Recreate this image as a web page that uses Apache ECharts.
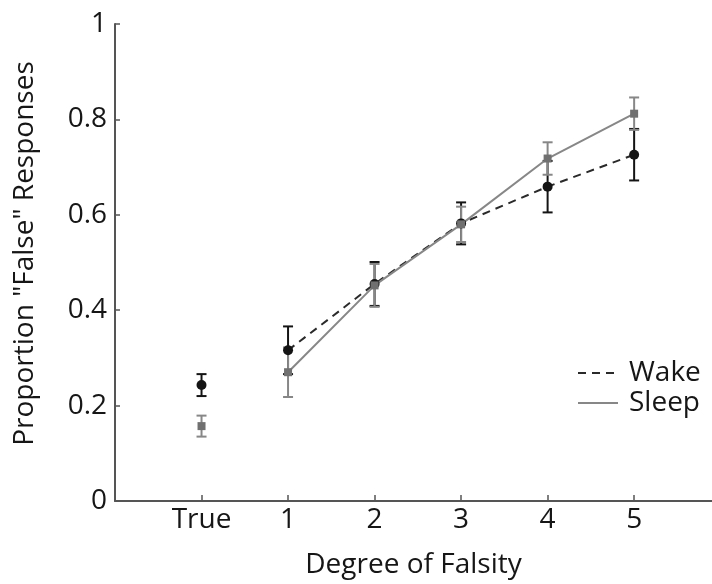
<!DOCTYPE html>
<html>
<head>
<meta charset="utf-8">
<script src="https://cdn.jsdelivr.net/npm/echarts@6/dist/echarts.min.js"></script>
<style>html,body{margin:0;padding:0;background:#fff}#c{width:712px;height:584px}</style>
</head>
<body>
<div id="c"></div>
<script>
const categories = ['True', '1', '2', '3', '4', '5'];
const xPositions = [0, 1, 2, 3, 4, 5];
const wakeMean = [0.243, 0.316, 0.455, 0.582, 0.659, 0.726];
const wakeErr = [0.023, 0.050, 0.046, 0.044, 0.054, 0.054];
const sleepMean = [0.157, 0.270, 0.452, 0.580, 0.718, 0.812];
const sleepErr = [0.022, 0.052, 0.045, 0.037, 0.034, 0.034];
const yTickValues = [0, 0.2, 0.4, 0.6, 0.8, 1];

const FONT = '"Open Sans", "Noto Sans", sans-serif';
const FS = 28;
const TXT = '#161616';
const WAKE_C = '#141414';
const SLEEP_C = '#878787';

function errData(mean, err) {
  return xPositions.map((x, i) => [x, mean[i] - err[i], mean[i] + err[i]]);
}
function pts(mean, from) {
  return xPositions.slice(from).map((x, i) => [x, mean[i + from]]);
}
function errRender(color) {
  return function (params, api) {
    const x = api.value(0);
    const lo = api.coord([x, api.value(1)]);
    const hi = api.coord([x, api.value(2)]);
    const w = 5;
    const style = { stroke: color, lineWidth: 2, fill: null };
    return {
      type: 'group',
      children: [
        { type: 'line', shape: { x1: lo[0], y1: lo[1], x2: hi[0], y2: hi[1] }, style },
        { type: 'line', shape: { x1: lo[0] - w, y1: lo[1], x2: lo[0] + w, y2: lo[1] }, style },
        { type: 'line', shape: { x1: hi[0] - w, y1: hi[1], x2: hi[0] + w, y2: hi[1] }, style }
      ]
    };
  };
}

const chart = echarts.init(document.getElementById('c'), null, { renderer: 'canvas' });
chart.setOption({
  animation: false,
  backgroundColor: '#fff',
  textStyle: { fontFamily: FONT },
  grid: { left: 115, right: 0, top: 24, bottom: 82 },
  legend: {
    data: ['Wake', 'Sleep'],
    orient: 'vertical',
    left: 572,
    top: 354,
    itemWidth: 40,
    itemHeight: 14,
    itemGap: 2,
    itemStyle: { opacity: 0 },
    textStyle: { fontSize: FS, color: TXT, fontFamily: FONT, padding: [0, 0, 0, 6] }
  },
  xAxis: {
    type: 'value',
    min: -1,
    max: 5.9,
    name: 'Degree of Falsity',
    nameLocation: 'middle',
    nameGap: 50,
    nameTextStyle: { fontSize: FS, color: TXT, fontFamily: FONT },
    splitLine: { show: false },
    axisLine: { show: true, onZero: false, lineStyle: { color: '#555', width: 2 } },
    axisTick: { show: true, inside: true, length: 6, customValues: xPositions, lineStyle: { color: '#555', width: 1.5 } },
    axisLabel: {
      customValues: xPositions,
      fontSize: FS, color: TXT, fontFamily: FONT, margin: 5,
      formatter: v => categories[xPositions.indexOf(Math.round(v))] || ''
    }
  },
  yAxis: {
    type: 'value',
    min: 0,
    max: 1,
    interval: 0.2,
    name: 'Proportion "False" Responses',
    nameLocation: 'middle',
    nameGap: 76,
    nameTextStyle: { fontSize: FS, color: TXT, fontFamily: FONT, padding: [0, 0, 0, 18] },
    splitLine: { show: false },
    axisLine: { show: true, onZero: false, lineStyle: { color: '#555', width: 2 } },
    axisTick: { show: true, inside: true, length: 5, lineStyle: { color: '#555', width: 1.5 } },
    axisLabel: { fontSize: FS, color: TXT, fontFamily: FONT, margin: 8 }
  },
  series: [
    { name: 'wakeErr', type: 'custom', renderItem: errRender(WAKE_C), data: errData(wakeMean, wakeErr), z: 2, silent: true },
    { name: 'sleepErr', type: 'custom', renderItem: errRender(SLEEP_C), data: errData(sleepMean, sleepErr), z: 3, silent: true },
    { name: 'Wake', type: 'line', data: pts(wakeMean, 1), symbol: 'none', z: 4,
      lineStyle: { color: '#2a2a2a', width: 2, type: [8, 6] }, itemStyle: { color: '#2a2a2a' } },
    { name: 'Sleep', type: 'line', data: pts(sleepMean, 1), symbol: 'none', z: 4,
      lineStyle: { color: SLEEP_C, width: 2 }, itemStyle: { color: SLEEP_C } },
    { name: 'wakePts', type: 'scatter', data: pts(wakeMean, 0), symbol: 'circle', symbolSize: 10, z: 5,
      itemStyle: { color: WAKE_C, opacity: 1 } },
    { name: 'sleepPts', type: 'scatter', data: pts(sleepMean, 0), symbol: 'rect', symbolSize: 8, z: 6,
      itemStyle: { color: '#707070', opacity: 1 } }
  ]
});
</script>
</body>
</html>
